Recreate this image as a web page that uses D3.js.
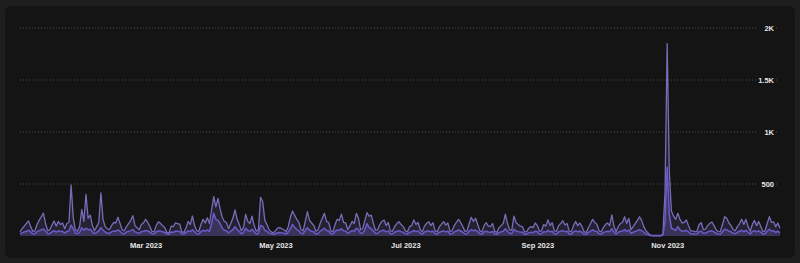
<!DOCTYPE html>
<html>
<head>
<meta charset="utf-8">
<script src="https://cdn.jsdelivr.net/npm/d3@7"></script>
<style>
  html, body { margin: 0; padding: 0; background: #1e1e1e; }
  svg { display: block; }
  text { font-family: "Liberation Sans", Arial, sans-serif; }
</style>
</head>
<body>
<div id="chart"></div>
<script>
const width = 800;
const height = 263;

// daily series, Jan 1 2023 .. Dec 24 2023
const startDay = '2023-01-01';

const pageviews = [
  // Jan
  40,70,95,120,144,90,45, 50,110,150,185,220,120,50, 60,105,144,95,140,110,125, 70,120,130,490,180,60,45, 90,255,140,
  // Feb
  400,170,200,100, 50,90,130,415,160,90,70, 60,100,130,125,180,120,60, 50,90,120,150,195,100,80, 60,110,125,
  // Mar
  160,130,90,45, 40,100,137,120,100,80,35, 30,95,90,125,120,115,40, 35,80,140,110,192,100,50, 45,110,160,125,175,120,
  // Apr
  250, 378,280,362,260,180,140,130, 70,120,170,250,160,110,50, 80,208,140,120,190,100,45, 60,372,330,150,110,60,40, 30,
  // May
  50,75,80,70,60,40, 90,180,240,200,160,130,60, 50,140,234,150,125,100,45, 60,120,170,218,140,130,50, 40,110,160,150,
  // Jun
  211,130,125, 60,100,140,120,218,170,60, 70,150,224,190,200,120,55, 60,110,140,154,100,130,50, 45,90,120,138,110,90,
  // Jul
  50, 40,90,100,154,110,130,60, 40,95,120,138,100,128,50, 40,90,115,138,105,125,45, 50,100,130,160,130,90,45, 50,120,
  // Aug
  180,140,170,110,50, 40,100,128,95,90,120,45, 35,80,100,120,211,120,60, 55,192,130,110,95,90,40, 40,75,90,80,125,
  // Sep
  100,45, 50,110,95,154,100,128,50, 45,100,120,147,105,120,45, 40,100,140,100,125,90,40, 35,80,120,160,130,110,50,
  // Oct
  40,80,110,125,100,202,95, 40,90,120,130,185,120,170, 60,90,120,150,185,150,90, 50,30,10,5,5,5,5,5,20,420,
  // Nov
  1850,620,240,190,160, 218,160,125,130,154,100,50, 50,40,45,110,128,60, 65,100,120,135,100,60, 40,45,110,186,170,125,
  // Dec
  100,60, 50,90,120,160,110,160,90, 45,110,150,100,140,90,40, 50,120,186,130,135,90,125,75
];

const visitors = [
  // Jan
  20,30,38,45,55,40,22, 22,42,50,60,68,45,22, 25,40,52,38,50,42,45, 28,45,48,105,70,28,22, 35,80,55,
  // Feb
  75,60,65,40,22, 35,48,80,58,38,28, 25,40,48,46,60,45,25, 22,38,45,52,62,40,32, 25,42,46,
  // Mar
  52,48,38,22,20, 40,50,46,40,34,18, 16,38,36,46,45,44,20, 18,34,50,42,60,40,22, 20,42,55,46,58,45,
  // Apr
  120,218,160,150,120,75,55, 50,30,48,60,90,60,45, 22,32,75,52,46,65,40, 20,26,100,95,55,44,28, 20,16,
  // May
  22,32,34,30,26,18, 38,70,112,85,62,50,26, 22,55,80,55,46,40,20, 25,46,60,75,52,48,22, 18,44,58,55,
  // Jun
  70,50,48,26, 40,52,46,75,62,26, 28,60,120,80,70,48,24, 26,44,52,55,40,48,22, 20,36,45,50,42,36,
  // Jul
  22,18,36,40,55,42,48,26, 18,38,46,50,40,46,22, 18,36,44,50,40,46,20, 22,40,48,58,48,36,20, 22,46,
  // Aug
  60,50,58,42,22, 18,40,46,38,36,44,20, 16,32,40,46,70,45,26, 24,65,48,42,38,36,18, 18,30,36,32,46,
  // Sep
  40,20, 22,42,38,55,40,46,22, 20,40,46,52,42,45,20, 18,40,50,40,46,36,18, 16,32,46,58,48,42,22,
  // Oct
  18,32,42,46,40,70,38, 18,36,45,48,62,44,58, 26,36,45,52,62,52,36, 22,14,5,3,3,3,3,3,10,140,
  // Nov
  660,210,75,65,55, 90,60,46,48,55,40,22, 22,18,20,42,46,26, 28,40,45,50,40,26, 18,20,42,65,60,46,
  // Dec
  40,26, 22,36,46,55,42,55,36, 20,42,52,40,50,36,18, 22,45,65,48,50,36,46,30
];

const xTicks = ['2023-03-01', '2023-05-01', '2023-07-01', '2023-09-01', '2023-11-01'];
const yTicks = [500, 1000, 1500, 2000];

const parseDay = d3.timeParse('%Y-%m-%d');
const start = parseDay(startDay);
const data = pageviews.map((v, i) => ({
  date: d3.timeDay.offset(start, i),
  total: v,
  uniq: visitors[i]
}));

const svg = d3.select('#chart')
  .append('svg')
  .attr('width', width)
  .attr('height', height);

// card
svg.append('rect')
  .attr('x', 5)
  .attr('y', 6)
  .attr('width', 790)
  .attr('height', 252)
  .attr('rx', 6)
  .attr('fill', '#141414');

const x = d3.scaleTime()
  .domain(d3.extent(data, d => d.date))
  .range([20, 780]);

const y = d3.scaleLinear()
  .domain([0, 2000])
  .range([236, 28]);

// grid lines
svg.append('g')
  .selectAll('line')
  .data(yTicks)
  .join('line')
  .attr('x1', 20)
  .attr('x2', 779)
  .attr('y1', d => y(d))
  .attr('y2', d => y(d))
  .attr('stroke', '#4a4a4a')
  .attr('stroke-width', 1)
  .attr('stroke-dasharray', '1,2');

const fmtK = v => v >= 1000 ? (v / 1000) + 'K' : String(v);

const yLabels = svg.append('g');
yLabels.selectAll('rect')
  .data(yTicks)
  .join('rect')
  .attr('x', 757)
  .attr('y', d => y(d) - 6)
  .attr('width', 19)
  .attr('height', 12)
  .attr('fill', '#141414');
yLabels.selectAll('text')
  .data(yTicks)
  .join('text')
  .attr('x', 774)
  .attr('y', d => y(d))
  .attr('dy', '0.35em')
  .attr('text-anchor', 'end')
  .attr('fill', '#e6e6e6')
  .style('font-size', '7.5px')
  .style('font-weight', 'bold')
  .text(fmtK);

// areas
const areaTotal = d3.area()
  .x(d => x(d.date))
  .y0(y(0))
  .y1(d => y(d.total));
const areaUniq = d3.area()
  .x(d => x(d.date))
  .y0(y(0))
  .y1(d => y(d.uniq));
const lineTotal = d3.line()
  .x(d => x(d.date))
  .y(d => y(d.total));
const lineUniq = d3.line()
  .x(d => x(d.date))
  .y(d => y(d.uniq));

svg.append('path')
  .datum(data)
  .attr('d', areaTotal)
  .attr('fill', '#6f5fb8')
  .attr('fill-opacity', 0.18);

svg.append('path')
  .datum(data)
  .attr('d', areaUniq)
  .attr('fill', '#6f5fb8')
  .attr('fill-opacity', 0.3);

svg.append('path')
  .datum(data)
  .attr('d', lineTotal)
  .attr('fill', 'none')
  .attr('stroke', '#7a6cb8')
  .attr('stroke-width', 1.3)
  .attr('stroke-linejoin', 'round');

svg.append('path')
  .datum(data)
  .attr('d', lineUniq)
  .attr('fill', 'none')
  .attr('stroke', '#6b5bc9')
  .attr('stroke-width', 1.5)
  .attr('stroke-linejoin', 'round');

// x axis
const xAxis = d3.axisBottom(x)
  .tickValues(xTicks.map(parseDay))
  .tickFormat(d3.timeFormat('%b %Y'))
  .tickSize(0)
  .tickPadding(0);

const gx = svg.append('g')
  .attr('transform', 'translate(0,245)')
  .call(xAxis);
gx.select('.domain').remove();
gx.selectAll('text')
  .attr('y', 0)
  .attr('dy', '0.35em')
  .attr('fill', '#e6e6e6')
  .style('font-size', '7.5px')
  .style('font-weight', 'bold')
  .style('font-family', '"Liberation Sans", Arial, sans-serif');
</script>
</body>
</html>
